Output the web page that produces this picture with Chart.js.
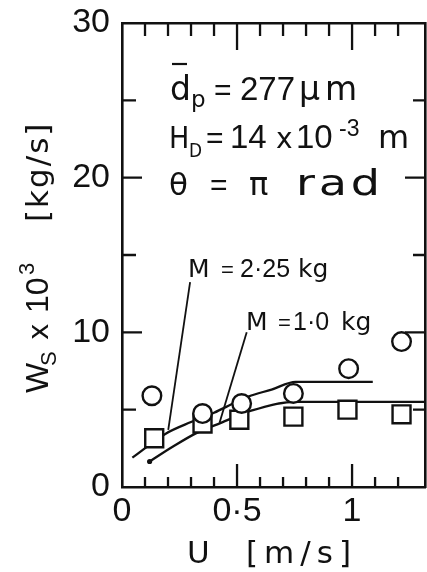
<!DOCTYPE html>
<html>
<head>
<meta charset="utf-8">
<script src="https://cdn.jsdelivr.net/npm/chart.js@4.4.1/dist/chart.umd.min.js"></script>
<style>
  html, body { margin: 0; padding: 0; background: #fff; }
</style>
</head>
<body>
<canvas id="chart" width="427" height="572"></canvas>
<script>
const INK = '#111';
const NUM_FONT = '"Liberation Sans", Arial, sans-serif';
const TXT_FONT = '"DejaVu Sans", sans-serif';
const DIG_FONT = '"Liberation Sans", Arial, sans-serif';

const uCircle = [0.13, 0.35, 0.52, 0.745, 0.985, 1.215];
const wCircle = [5.9, 4.75, 5.4, 6.05, 7.65, 9.4];
const uSquare = [0.14, 0.35, 0.51, 0.745, 0.98, 1.215];
const wSquare = [3.15, 4.1, 4.35, 4.55, 5.0, 4.7];

// calculated curves
const uLineM225 = [0.045, 0.19, 0.30, 0.40, 0.49, 0.55, 0.65, 0.755, 1.09];
const wLineM225 = [1.9, 3.45, 4.2, 4.8, 5.45, 5.85, 6.3, 6.8, 6.8];
const uLineM10 = [0.12, 0.22, 0.325, 0.43, 0.565, 0.75, 1.317];
const wLineM10 = [1.65, 2.6, 3.5, 4.15, 4.95, 5.5, 5.5];

// axis ranges and labelled ticks
const xMax = 1.317;
const yMax = 30;
const xTickLabels = { 0: '0', 0.5: '0·5', 1: '1' };

// leader lines from the M labels to their curves
const leaderM225 = [[0.296, 13.25], [0.201, 3.7]];
const leaderM10 = [[0.542, 10.0], [0.424, 4.15]];

const toXY = (xs, ys) => xs.map((x, i) => ({ x: x, y: ys[i] }));

function put(ctx, text, x, y, size, family, sx) {
    ctx.font = size + 'px ' + family;
    if (sx) {
        ctx.save();
        ctx.translate(x, y);
        ctx.scale(sx, 1);
        ctx.fillText(text, 0, 0);
        ctx.restore();
    } else {
        ctx.fillText(text, x, y);
    }
}

const frameTicks = {
    id: 'frameTicks',
    afterDraw(chart) {
        const ctx = chart.ctx;
        const a = chart.chartArea;
        const xs = chart.scales.x;
        const ys = chart.scales.y;
        ctx.save();
        ctx.strokeStyle = INK;
        ctx.lineWidth = 2.3;
        ctx.beginPath();
        for (let i = 1; i <= 12; i++) {
            const px = xs.getPixelForValue(i / 10);
            const major = i % 5 === 0;
            ctx.moveTo(px, a.bottom);
            ctx.lineTo(px, a.bottom - (major ? 23 : 10));
            ctx.moveTo(px, a.top);
            ctx.lineTo(px, a.top + (major ? 27 : 13));
        }
        for (let v = 5; v < yMax; v += 5) {
            const py = ys.getPixelForValue(v);
            const major = v % 10 === 0;
            ctx.moveTo(a.left, py);
            ctx.lineTo(a.left + (major ? 20 : 14), py);
            ctx.moveTo(a.right, py);
            ctx.lineTo(a.right - (major ? 20 : 12), py);
        }
        ctx.stroke();
        ctx.restore();
    }
};

const annotations = {
    id: 'annotations',
    afterDraw(chart) {
        const ctx = chart.ctx;
        ctx.save();
        ctx.fillStyle = INK;
        ctx.strokeStyle = INK;
        ctx.textBaseline = 'alphabetic';
        ctx.textAlign = 'left';

        // d_p line with the bar over d
        put(ctx, 'd', 170, 100, 33, TXT_FONT);
        put(ctx, 'p', 191, 107, 23, TXT_FONT);
        put(ctx, '=', 214, 100, 30, DIG_FONT);
        put(ctx, '277', 240, 100, 33, DIG_FONT);
        put(ctx, 'µ', 299, 100, 33, TXT_FONT);
        put(ctx, 'm', 325, 100, 33, TXT_FONT);
        ctx.lineWidth = 2.2;
        ctx.beginPath();
        ctx.moveTo(172, 64);
        ctx.lineTo(187, 64);
        ctx.stroke();

        // H_D line
        put(ctx, 'H', 169, 148, 30, TXT_FONT, 0.9);
        put(ctx, 'D', 189, 157, 20, TXT_FONT, 0.85);
        put(ctx, '=', 206, 148, 30, DIG_FONT);
        put(ctx, '14', 230, 148, 33, DIG_FONT);
        put(ctx, 'x', 276, 148, 28, TXT_FONT);
        put(ctx, '10', 296, 148, 33, DIG_FONT);
        put(ctx, '-3', 339, 136, 23, DIG_FONT);
        put(ctx, 'm', 378, 148, 32, TXT_FONT);

        // theta line
        put(ctx, 'θ', 169, 195, 31, TXT_FONT);
        put(ctx, '=', 210, 195, 30, DIG_FONT);
        put(ctx, 'π', 249, 195, 32, TXT_FONT);
        ctx.letterSpacing = '3px';
        put(ctx, 'rad', 296, 195, 36, TXT_FONT, 1.28);
        ctx.letterSpacing = '0px';

        // curve labels
        put(ctx, 'M', 188, 277, 25, TXT_FONT);
        put(ctx, '=', 221, 277, 22, DIG_FONT);
        put(ctx, '2·25', 240, 277, 25, DIG_FONT);
        put(ctx, 'kg', 298, 277, 25, TXT_FONT);

        put(ctx, 'M', 246, 330, 25, TXT_FONT);
        put(ctx, '=', 278, 330, 22, DIG_FONT);
        put(ctx, '1·0', 293, 330, 25, DIG_FONT);
        put(ctx, 'kg', 341, 330, 25, TXT_FONT);

        // x axis title
        put(ctx, 'U', 187, 563, 31, TXT_FONT);
        ctx.letterSpacing = '6px';
        put(ctx, '[m/s]', 246, 563, 31, TXT_FONT);
        ctx.letterSpacing = '0px';

        // y axis title, rotated
        ctx.translate(48, 393);
        ctx.rotate(-Math.PI / 2);
        put(ctx, 'W', 0, 0, 32, DIG_FONT);
        put(ctx, 'S', 27, 8, 22, DIG_FONT);
        put(ctx, 'x', 53, 0, 28, TXT_FONT);
        put(ctx, '10', 80, 0, 32, DIG_FONT);
        put(ctx, '3', 118, -14, 22, DIG_FONT);
        ctx.letterSpacing = '2px';
        put(ctx, '[kg/s]', 171, 0, 31, TXT_FONT);
        ctx.letterSpacing = '0px';
        ctx.restore();
    }
};

const hiddenAxis = (position, size) => ({
    type: 'linear',
    position: position,
    min: 0,
    max: position === 'top' ? xMax : yMax,
    ticks: { display: false },
    grid: { drawOnChartArea: false, drawTicks: false },
    border: { display: true, color: INK, width: 2.6 },
    afterFit: s => { if (position === 'top') s.height = size; else s.width = size; }
});

new Chart(document.getElementById('chart').getContext('2d'), {
    type: 'scatter',
    data: {
        datasets: [{
            label: 'circles',
            data: toXY(uCircle, wCircle),
            pointStyle: 'circle',
            pointRadius: 9.3,
            borderWidth: 2.4,
            borderColor: INK,
            backgroundColor: '#fff'
        }, {
            label: 'squares',
            data: toXY(uSquare, wSquare),
            pointStyle: 'rect',
            pointRadius: 12.7,
            borderWidth: 2.4,
            borderColor: INK,
            backgroundColor: '#fff'
        }, {
            label: 'M = 2.25 kg',
            data: toXY(uLineM225, wLineM225),
            showLine: true,
            cubicInterpolationMode: 'monotone',
            borderColor: INK,
            borderWidth: 2.3,
            pointRadius: 0
        }, {
            label: 'M = 1.0 kg',
            data: toXY(uLineM10, wLineM10),
            showLine: true,
            cubicInterpolationMode: 'monotone',
            borderColor: INK,
            borderWidth: 2.3,
            pointRadius: ctx => ctx.dataIndex === 0 ? 2.6 : 0,
            pointBackgroundColor: INK,
            pointBorderWidth: 0
        }, {
            label: 'leader 2.25',
            data: leaderM225.map(p => ({ x: p[0], y: p[1] })),
            showLine: true,
            borderColor: INK,
            borderWidth: 1.8,
            pointRadius: 0
        }, {
            label: 'leader 1.0',
            data: leaderM10.map(p => ({ x: p[0], y: p[1] })),
            showLine: true,
            borderColor: INK,
            borderWidth: 1.8,
            pointRadius: 0
        }]
    },
    options: {
        responsive: false,
        animation: false,
        layout: { autoPadding: false, padding: { left: 0, right: 2, top: 23, bottom: 0 } },
        plugins: { legend: { display: false }, tooltip: { enabled: false } },
        scales: {
            x: {
                type: 'linear',
                position: 'bottom',
                min: 0,
                max: xMax,
                grid: { drawOnChartArea: false, drawTicks: false },
                border: { display: true, color: INK, width: 2.6 },
                ticks: {
                    stepSize: 0.5,
                    includeBounds: false,
                    autoSkip: false,
                    maxRotation: 0,
                    padding: 8,
                    color: INK,
                    font: { family: NUM_FONT, size: 34, lineHeight: 1 },
                    callback: v => xTickLabels[v] !== undefined ? xTickLabels[v] : ''
                },
                afterFit: s => { s.height = 85; s.paddingLeft = 0; s.paddingRight = 0; }
            },
            xTop: hiddenAxis('top', 0),
            y: {
                type: 'linear',
                position: 'left',
                min: 0,
                max: yMax,
                grid: { drawOnChartArea: false, drawTicks: false },
                border: { display: true, color: INK, width: 2.6 },
                ticks: {
                    stepSize: 10,
                    padding: 12,
                    color: INK,
                    font: { family: NUM_FONT, size: 34, lineHeight: 1 }
                },
                afterFit: s => { s.width = 122; s.paddingTop = 0; s.paddingBottom = 0; }
            },
            yRight: hiddenAxis('right', 0)
        }
    },
    plugins: [frameTicks, annotations]
});
</script>
</body>
</html>
